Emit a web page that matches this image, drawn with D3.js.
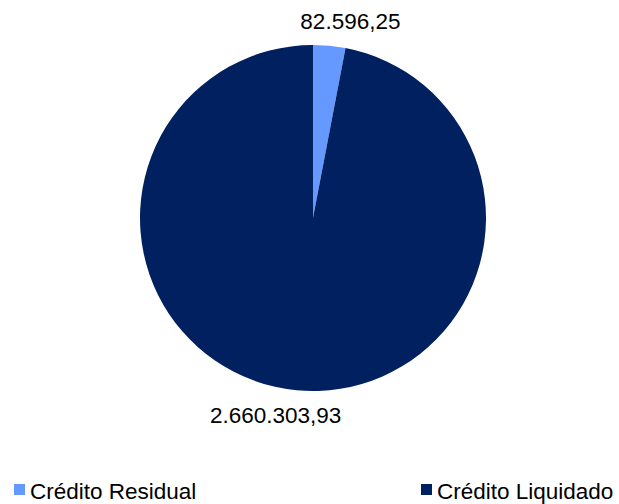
<!DOCTYPE html>
<html>
<head>
<meta charset="utf-8">
<script src="https://cdn.jsdelivr.net/npm/d3@7/dist/d3.min.js"></script>
<style>
  html, body { margin: 0; padding: 0; background: #fff; }
  text { font-family: "Liberation Sans", Arial, sans-serif; fill: #000; }
</style>
</head>
<body>
<svg id="chart" width="619" height="504"></svg>
<script>
// dados
const categories = ['Crédito Residual', 'Crédito Liquidado'];
const values = [82596.25, 2660303.93];
const colors = ['#6699FF', '#002060'];

const W = 619, H = 504;
const cx = 313, cy = 218, R = 173;
const FONT = 22.5;

const svg = d3.select('#chart');

// formato pt: 2.660.303,93
const fmt = d3.formatLocale({ decimal: ',', thousands: '.', grouping: [3], currency: ['', ''] }).format(',.2f');

const pie = d3.pie().sort(null).value((d) => d.value);
const arcs = pie(categories.map((c, i) => ({ name: c, value: values[i], color: colors[i] })));

const arc = d3.arc().innerRadius(0).outerRadius(R);
const labelArc = d3.arc().innerRadius(198).outerRadius(198);

const g = svg.append('g').attr('transform', `translate(${cx},${cy})`);

g.selectAll('path.slice')
  .data(arcs)
  .enter()
  .append('path')
  .attr('class', 'slice')
  .attr('d', arc)
  .attr('fill', (d) => d.data.color);

//rótulos fora da fatia
g.selectAll('text.lbl')
  .data(arcs)
  .enter()
  .append('text')
  .attr('class', 'lbl')
  .attr('text-anchor', 'middle')
  .attr('font-size', FONT)
  .attr('transform', (d) => {
    let [x, y] = labelArc.centroid(d);
    x = x * 2; // Excel empurra o rótulo para o lado
    return `translate(${x},${y})`;
  })
  .attr('dy', '0.36em')
  .text((d) => fmt(d.data.value));

// legenda
const legendX = [14, 421];
const legend = svg
  .selectAll('g.legend')
  .data(arcs)
  .enter()
  .append('g')
  .attr('class', 'legend')
  .attr('transform', (d, i) => `translate(${legendX[i]},484)`);

legend.append('rect').attr('width', 11).attr('height', 11).attr('fill', (d) => d.data.color);
legend
  .append('text')
  .attr('x', 16)
  .attr('y', 15)
  .attr('font-size', FONT)
  .text((d) => d.data.name);
</script>
</body>
</html>
